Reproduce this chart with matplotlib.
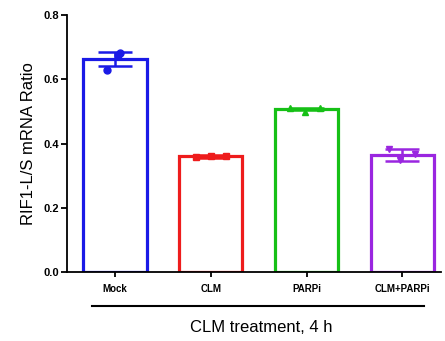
import numpy as np
import matplotlib.pyplot as plt
import matplotlib.transforms as mtransforms

plt.rcParams['font.family'] = ['Liberation Sans', 'DejaVu Sans']

groups = ['Mock', 'CLM', 'PARPi', 'CLM+PARPi']
means = [0.662, 0.360, 0.508, 0.364]
errs = [0.022, 0.004, 0.004, 0.018]
colors = ['#1a1ae6', '#ee1c1c', '#16c016', '#9a26e0']
markers = ['o', 's', '^', 'v']

# individual replicates (offset, value)
pts_x = [[-0.085, 0.03, 0.05], [-0.155, 0.0, 0.155], [-0.17, -0.02, 0.14], [-0.14, -0.02, 0.13]]
pts_y = [[0.629, 0.676, 0.682], [0.359, 0.360, 0.360], [0.512, 0.499, 0.512], [0.384, 0.348, 0.366]]

fig = plt.figure(figsize=(4.45, 3.41), dpi=100)
ax = fig.add_axes([0.151, 0.2023, 0.839, 0.7537])

x = np.arange(len(groups))
ax.bar(x, means, width=0.66, facecolor='white', edgecolor=colors, linewidth=2.3, zorder=2)
for i in range(len(groups)):
    ax.errorbar(x[i], means[i], yerr=errs[i], color=colors[i], capsize=12,
                elinewidth=1.8, capthick=1.8, fmt='none', zorder=3)
    ax.plot(x[i] + np.array(pts_x[i]), pts_y[i], linestyle='none', marker=markers[i],
            color=colors[i], markersize=5, zorder=4)

ax.set_xlim(-0.5, 3.4)
ax.set_ylim(0, 0.8)
ax.set_yticks([0.0, 0.2, 0.4, 0.6, 0.8])
ax.set_yticklabels(['0.0', '0.2', '0.4', '0.6', '0.8'], fontsize=8, fontweight='bold')
ax.set_xticks(x)
ax.set_xticklabels(groups, fontsize=7, fontweight='bold')
ax.tick_params(axis='y', length=4, width=1.3, pad=2)
ax.tick_params(axis='x', length=3.5, width=1.3, pad=5)
ax.spines['top'].set_visible(False)
ax.spines['right'].set_visible(False)
ax.spines['left'].set_linewidth(1.3)
ax.spines['bottom'].set_linewidth(1.3)
ax.set_ylabel('RIF1-L/S mRNA Ratio', fontsize=12, labelpad=5)

trans = mtransforms.blended_transform_factory(ax.transData, ax.transAxes)
ax.plot([-0.24, 3.23], [-0.132, -0.132], color='black', linewidth=1.5,
        transform=trans, clip_on=False)
ax.text(1.525, -0.215, 'CLM treatment, 4 h', transform=trans, ha='center', va='center',
        fontsize=12)

fig.savefig('out.png', dpi=100)
